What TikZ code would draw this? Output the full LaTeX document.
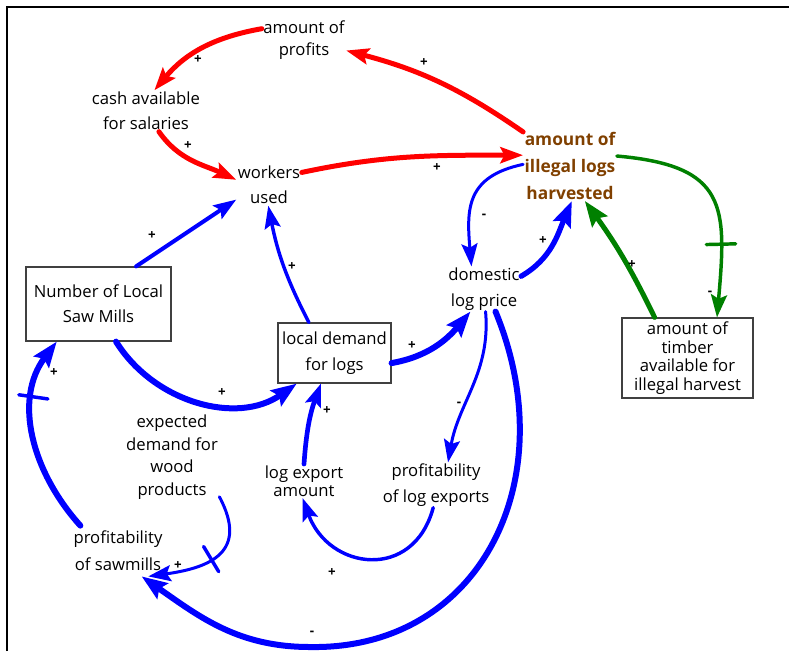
\documentclass[tikz,border=0pt]{standalone}
\usepackage{fontspec}
\setmainfont{Open Sans}
\usetikzlibrary{arrows.meta, decorations.markings}

\definecolor{logbrown}{RGB}{128,64,0}
\definecolor{cldgreen}{RGB}{0,128,0}

\tikzset{
  var/.style={align=center, inner sep=1pt, font=\fontsize{12.5}{19}\selectfont},
  stock/.style={var, draw=black!75, line width=0.9pt},
  sign/.style={inner sep=0pt, font=\fontsize{10}{10}\selectfont\bfseries},
  link/.style={line cap=round, -{Stealth[length=17pt,width=12pt,inset=3pt]}},
  biglink/.style={line cap=round, -{Stealth[length=19pt,width=14pt,inset=3pt]}},
  delaymark/.style={postaction={decorate, decoration={markings,
      mark=at position #1 with {\draw[-,line width=2.6pt] (0pt,-11pt) -- (0pt,11pt);}}}},
}

\begin{document}
\begin{tikzpicture}[x=0.75pt,y=-0.75pt]
    \useasboundingbox (0,0) rectangle (789,651);
    \draw[line width=2.2pt] (7,651) -- (7,7) -- (789,7);

    % variables
    \node[var, font=\fontsize{12.5}{16}\selectfont] (profits) at (304,40) {amount of\\profits};
    \node[var] (cash) at (146,111) {cash available\\for salaries};
    \node[var] (workers) at (269,185) {workers\\used};
    \node[var, text=logbrown, font=\fontsize{13}{20}\selectfont\bfseries] (illegal) at (570,166) {amount of\\illegal logs\\harvested};
    \node[var] (price) at (484,289) {domestic\\log price};
    \node[var, font=\fontsize{12.5}{17}\selectfont] (expected) at (172,457) {expected\\demand for\\wood\\products};
    \node[var, font=\fontsize{12.5}{13.5}\selectfont] (export) at (304,481) {log export\\amount};
    \node[var] (profexp) at (436,485) {profitability\\of log exports};
    \node[var, inner ysep=4pt, font=\fontsize{12.5}{20}\selectfont] (sawmills) at (118,551) {profitability\\of sawmills};
    \node[stock, minimum width=108.75pt, minimum height=55.5pt] (mills) at (98.5,304) {Number of Local\\Saw Mills};
    \node[stock, minimum width=84.75pt, minimum height=45pt] (demand) at (334.5,353) {local demand\\for logs};
    \node[stock, minimum width=98.25pt, minimum height=60pt, font=\fontsize{12.5}{14}\selectfont] (timber) at (687.5,358) {amount of\\timber\\available for\\illegal harvest};

    % red loop
    \draw[red, line width=3.75pt, link] (illegal.144) to[bend right=10] (profits.-14);
    \draw[red, line width=3.75pt, link] (profits.165) to[out=190,in=50] (cash.68);
    \draw[red, line width=3.75pt, link] (cash.-58) to[out=-55,in=155] (workers.171);
    \draw[red, line width=3.75pt, link] (workers.21) to[out=12,in=180] (illegal.167);

    % blue links
    \draw[blue, line width=3pt, link] (mills.45) -- (workers.204);
    \draw[blue, line width=2.6pt, link] (demand.130) to[bend left=8] (workers.-92);
    \draw[blue, line width=4.5pt, biglink] (mills.-65) to[out=-58,in=-145] (demand.219);
    \draw[blue, line width=4.5pt, biglink] (demand.-10) to[out=10,in=-130] (price.239);
    \draw[blue, line width=4pt, biglink] (price.19) to[out=30,in=-113] (illegal.-87);
    \draw[blue, line width=2.25pt, link] (illegal.178) to[out=192,in=95,looseness=1.3] (price.119);
    \draw[blue, line width=2.25pt, link] (price.-86) to[out=-85,in=80] (profexp.62);
    \coordinate (lowpt) at (310,647);
    \draw[blue, line width=4.5pt, biglink] (price.-63) .. controls (565,480) and (480,650) .. (lowpt) to[out=180,in=-35] (sawmills.-47);
    \draw[blue, line width=2.6pt, link] (profexp.-97) to[out=-105,in=-70,looseness=1.5] (export.-95);
    \draw[blue, line width=3.5pt, link] (export.90) to[out=86,in=-110] (demand.246);
    \draw[blue, line width=4.5pt, biglink, delaymark=0.7] (sawmills.146) to[out=132,in=-127] (mills.222);
    \draw[blue, line width=2.25pt, link, delaymark=0.52] (expected.-40) to[out=-62,in=8,looseness=1.5] (sawmills.-40);

    % green links
    \draw[cldgreen, line width=2.6pt, link, delaymark=0.68] (illegal.12) to[out=-5,in=85,looseness=1.5] (timber.54);
    \draw[cldgreen, line width=3.75pt, biglink] (timber.129) to[bend right=5] (illegal.-67);

    % polarities
    \node[sign] (s1) at (424,63) {+};
    \node[sign] (s2) at (198,60) {+};
    \node[sign] (s3) at (188,146) {+};
    \node[sign] (s4) at (437,168) {+};
    \node[sign] (s5) at (152,236) {+};
    \node[sign] (s6) at (292,267) {+};
    \node[sign] (s7) at (222,393) {+};
    \node[sign] (s8) at (412,346) {+};
    \node[sign] (s9) at (543,241) {+};
    \node[sign] (s10) at (484,216) {-};
    \node[sign] (s11) at (459,404) {-};
    \node[sign] (s12) at (312,633) {-};
    \node[sign] (s13) at (332,573) {+};
    \node[sign] (s14) at (327,411) {+};
    \node[sign] (s15) at (54,373) {+};
    \node[sign] (s16) at (178,566) {+};
    \node[sign] (s17) at (710,293) {-};
    \node[sign] (s18) at (632,265) {+};
\end{tikzpicture}
\end{document}
